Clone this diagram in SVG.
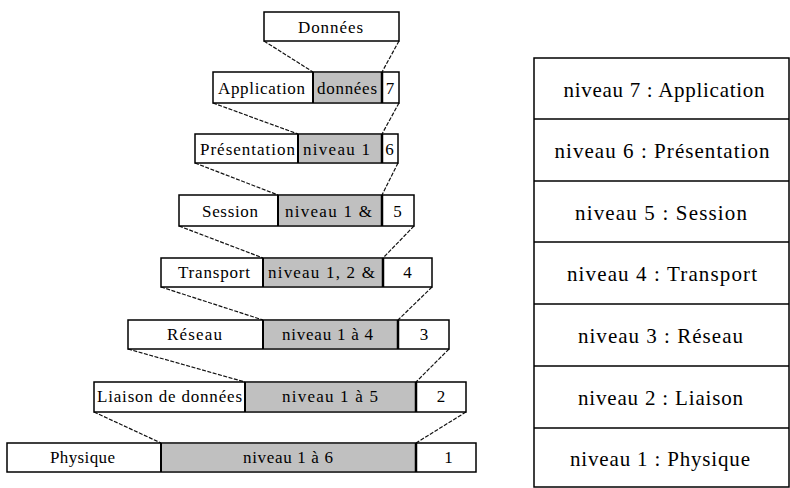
<svg xmlns="http://www.w3.org/2000/svg" width="790" height="488" viewBox="0 0 790 488">
  <style>
    .box { fill: #ffffff; stroke: #000000; stroke-width: 1.5; }
    .data { fill: #c0c0c0; stroke: none; }
    .sep { stroke: #000000; stroke-width: 2.5; }
    .sep2 { stroke: #000000; stroke-width: 2; }
    .link { stroke: #111111; stroke-width: 1.2; fill: none; stroke-dasharray: 4 1.5; }
    .t { font-family: "Liberation Serif", "Times New Roman", "DejaVu Serif", serif; font-size: 17px; fill: #000000; text-anchor: middle; }
    .rt { font-family: "Liberation Serif", "Times New Roman", "DejaVu Serif", serif; font-size: 21px; fill: #000000; text-anchor: middle; }
    .grid { stroke: #000000; stroke-width: 1.5; fill: none; }
  </style>
  <rect width="790" height="488" fill="#ffffff"/>

  <!-- Encapsulation connectors -->
  <g id="connectors">
    <line class="link" x1="264" y1="41" x2="313" y2="72"/>
    <line class="link" x1="399" y1="41" x2="382" y2="72"/>
    <line class="link" x1="213" y1="103" x2="298" y2="134"/>
    <line class="link" x1="399" y1="103" x2="382" y2="134"/>
    <line class="link" x1="195" y1="163" x2="278" y2="195"/>
    <line class="link" x1="398" y1="163" x2="382" y2="195"/>
    <line class="link" x1="179" y1="226" x2="263" y2="258"/>
    <line class="link" x1="414" y1="226" x2="383" y2="258"/>
    <line class="link" x1="161" y1="287" x2="263" y2="320"/>
    <line class="link" x1="432" y1="287" x2="398" y2="320"/>
    <line class="link" x1="128" y1="349" x2="245" y2="382"/>
    <line class="link" x1="449" y1="349" x2="416" y2="382"/>
    <line class="link" x1="94" y1="412" x2="161" y2="443"/>
    <line class="link" x1="466" y1="412" x2="416" y2="443"/>
  </g>

  <g id="donnees">
    <rect class="box" x="264" y="12" width="135" height="29"/>
    <text class="t" x="330.5" y="33" textLength="65" lengthAdjust="spacing">Données</text>
  </g>

  <g id="application">
    <rect class="box" x="213" y="72" width="186" height="31"/>
    <rect class="data" x="314" y="73" width="67" height="29"/>
    <line class="sep2" x1="313" y1="72" x2="313" y2="103"/>
    <line class="sep" x1="382" y1="72" x2="382" y2="103"/>
    <text class="t" x="261.5" y="94" textLength="87" lengthAdjust="spacing">Application</text>
    <text class="t" x="347" y="94" textLength="60" lengthAdjust="spacing">données</text>
    <text class="t" x="390" y="94">7</text>
  </g>

  <g id="presentation">
    <rect class="box" x="195" y="134" width="203" height="29"/>
    <rect class="data" x="299" y="135" width="82" height="27"/>
    <line class="sep2" x1="298" y1="134" x2="298" y2="163"/>
    <line class="sep" x1="382" y1="134" x2="382" y2="163"/>
    <text class="t" x="247.5" y="155" textLength="95" lengthAdjust="spacing">Présentation</text>
    <text class="t" x="336.5" y="155" textLength="67" lengthAdjust="spacing">niveau 1</text>
    <text class="t" x="389.5" y="155">6</text>
  </g>

  <g id="session">
    <rect class="box" x="179" y="195" width="235" height="31"/>
    <rect class="data" x="279" y="196" width="102" height="29"/>
    <line class="sep2" x1="278" y1="195" x2="278" y2="226"/>
    <line class="sep" x1="382" y1="195" x2="382" y2="226"/>
    <text class="t" x="230" y="217" textLength="56" lengthAdjust="spacing">Session</text>
    <text class="t" x="328.5" y="217" textLength="87" lengthAdjust="spacing">niveau 1 &amp;</text>
    <text class="t" x="397.5" y="217">5</text>
  </g>

  <g id="transport">
    <rect class="box" x="161" y="258" width="271" height="29"/>
    <rect class="data" x="264" y="259" width="118" height="27"/>
    <line class="sep2" x1="263" y1="258" x2="263" y2="287"/>
    <line class="sep" x1="383" y1="258" x2="383" y2="287"/>
    <text class="t" x="214" y="278" textLength="72" lengthAdjust="spacing">Transport</text>
    <text class="t" x="321.5" y="278" textLength="107" lengthAdjust="spacing">niveau 1, 2 &amp;</text>
    <text class="t" x="407.5" y="278">4</text>
  </g>

  <g id="reseau">
    <rect class="box" x="128" y="320" width="321" height="29"/>
    <rect class="data" x="264" y="321" width="133" height="27"/>
    <line class="sep2" x1="263" y1="320" x2="263" y2="349"/>
    <line class="sep" x1="398" y1="320" x2="398" y2="349"/>
    <text class="t" x="194.5" y="340" textLength="55" lengthAdjust="spacing">Réseau</text>
    <text class="t" x="327.5" y="340" textLength="91" lengthAdjust="spacing">niveau 1 à 4</text>
    <text class="t" x="424" y="340">3</text>
  </g>

  <g id="liaison">
    <rect class="box" x="94" y="382" width="372" height="30"/>
    <rect class="data" x="246" y="383" width="169" height="28"/>
    <line class="sep2" x1="245" y1="382" x2="245" y2="412"/>
    <line class="sep" x1="416" y1="382" x2="416" y2="412"/>
    <text class="t" x="169.5" y="402" textLength="145" lengthAdjust="spacing">Liaison de données</text>
    <text class="t" x="330" y="402" textLength="96" lengthAdjust="spacing">niveau 1 à 5</text>
    <text class="t" x="441" y="402">2</text>
  </g>

  <g id="physique">
    <rect class="box" x="7" y="443" width="469" height="29"/>
    <rect class="data" x="162" y="444" width="253" height="27"/>
    <line class="sep2" x1="161" y1="443" x2="161" y2="472"/>
    <line class="sep" x1="416" y1="443" x2="416" y2="472"/>
    <text class="t" x="82.5" y="463" textLength="65" lengthAdjust="spacing">Physique</text>
    <text class="t" x="288" y="463" textLength="90" lengthAdjust="spacing">niveau 1 à 6</text>
    <text class="t" x="448.5" y="463">1</text>
  </g>

  <!-- Layer reference table -->
  <g id="table">
    <rect class="grid" x="534" y="58" width="255" height="429"/>
    <line class="grid" x1="534" y1="119" x2="789" y2="119"/>
    <line class="grid" x1="534" y1="181" x2="789" y2="181"/>
    <line class="grid" x1="534" y1="242" x2="789" y2="242"/>
    <line class="grid" x1="534" y1="304" x2="789" y2="304"/>
    <line class="grid" x1="534" y1="366" x2="789" y2="366"/>
    <line class="grid" x1="534" y1="428" x2="789" y2="428"/>
    <text class="rt" x="664" y="97" textLength="201" lengthAdjust="spacing">niveau 7 : Application</text>
    <text class="rt" x="662" y="158" textLength="215" lengthAdjust="spacing">niveau 6 : Présentation</text>
    <text class="rt" x="661" y="220" textLength="172" lengthAdjust="spacing">niveau 5 : Session</text>
    <text class="rt" x="662" y="281" textLength="190" lengthAdjust="spacing">niveau 4 : Transport</text>
    <text class="rt" x="660.5" y="343" textLength="165" lengthAdjust="spacing">niveau 3 : Réseau</text>
    <text class="rt" x="660.5" y="405" textLength="165" lengthAdjust="spacing">niveau 2 : Liaison</text>
    <text class="rt" x="660" y="466" textLength="180" lengthAdjust="spacing">niveau 1 : Physique</text>
  </g>
</svg>
